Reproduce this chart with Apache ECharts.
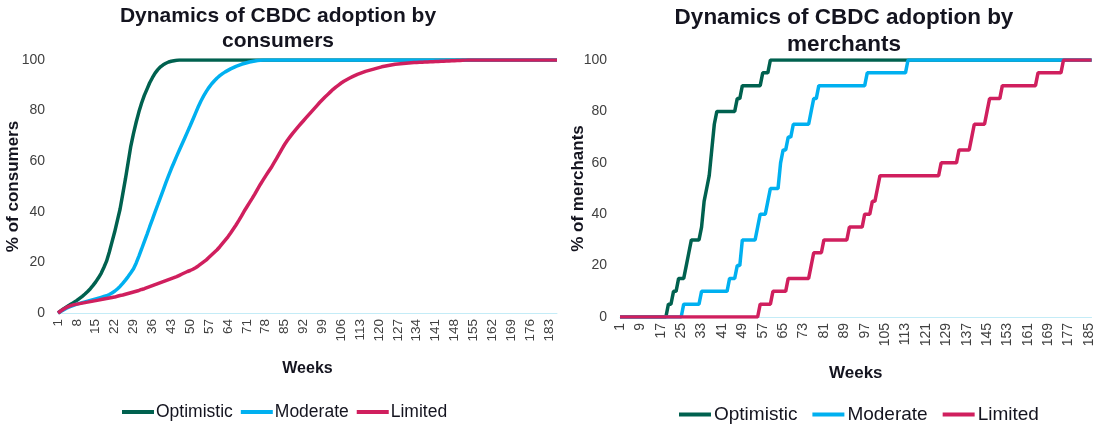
<!DOCTYPE html>
<html>
<head>
<meta charset="utf-8">
<script src="https://cdn.jsdelivr.net/npm/echarts@6/dist/echarts.min.js"></script>
<style>
html,body{margin:0;padding:0;background:#fff;}
#chart{width:1096px;height:424px;}
</style>
</head>
<body>
<div id="chart"></div>
<script>
// ---- Data ----
const weeks = [
1,2,3,4,5,6,7,8,9,10,11,12,13,14,15,16,17,18,19,20,
21,22,23,24,25,26,27,28,29,30,31,32,33,34,35,36,37,38,39,40,
41,42,43,44,45,46,47,48,49,50,51,52,53,54,55,56,57,58,59,60,
61,62,63,64,65,66,67,68,69,70,71,72,73,74,75,76,77,78,79,80,
81,82,83,84,85,86,87,88,89,90,91,92,93,94,95,96,97,98,99,100,
101,102,103,104,105,106,107,108,109,110,111,112,113,114,115,116,117,118,119,120,
121,122,123,124,125,126,127,128,129,130,131,132,133,134,135,136,137,138,139,140,
141,142,143,144,145,146,147,148,149,150,151,152,153,154,155,156,157,158,159,160,
161,162,163,164,165,166,167,168,169,170,171,172,173,174,175,176,177,178,179,180,
181,182,183,184,185,186
];
const seriesNames = ["Optimistic", "Moderate", "Limited"];

// Consumers (% adopting), weeks 1..186
const consumersOptimistic = [
0,0.8,1.6,2.3,3,3.6,4.3,5,5.8,6.6,
7.5,8.5,9.6,10.9,12.3,13.9,15.7,18,20.5,24,
28,32,36.5,41,47,53,59.5,66,71,75.5,
79.5,83,86,88.5,91,93,94.8,96.2,97.3,98.1,
98.7,99.2,99.5,99.7,99.9,100,100,100,100,100,
100,100,100,100,100,100,100,100,100,100,
100,100,100,100,100,100,100,100,100,100,
100,100,100,100,100,100,100,100,100,100,
100,100,100,100,100,100,100,100,100,100,
100,100,100,100,100,100,100,100,100,100,
100,100,100,100,100,100,100,100,100,100,
100,100,100,100,100,100,100,100,100,100,
100,100,100,100,100,100,100,100,100,100,
100,100,100,100,100,100,100,100,100,100,
100,100,100,100,100,100,100,100,100,100,
100,100,100,100,100,100,100,100,100,100,
100,100,100,100,100,100,100,100,100,100,
100,100,100,100,100,100,100,100,100,100,
100,100,100,100,100,100
];
const consumersModerate = [
0,0.6,1.2,1.8,2.3,2.7,3.1,3.5,3.8,4.1,
4.4,4.7,5,5.3,5.6,5.9,6.2,6.5,6.8,7.3,
7.9,8.6,9.5,10.5,11.7,13,14.4,15.9,17.5,19.8,
22.5,25.3,28.2,31.1,34.1,37,40,42.8,45.7,48.6,
51.5,54.3,57,59.5,62,64.4,66.8,69.2,71.6,74,
76.5,79,81.5,83.8,85.8,87.6,89.2,90.6,91.8,92.9,
93.8,94.6,95.3,95.9,96.5,97,97.5,97.9,98.3,98.6,
98.9,99.2,99.4,99.6,99.8,99.9,100,100,100,100,
100,100,100,100,100,100,100,100,100,100,
100,100,100,100,100,100,100,100,100,100,
100,100,100,100,100,100,100,100,100,100,
100,100,100,100,100,100,100,100,100,100,
100,100,100,100,100,100,100,100,100,100,
100,100,100,100,100,100,100,100,100,100,
100,100,100,100,100,100,100,100,100,100,
100,100,100,100,100,100,100,100,100,100,
100,100,100,100,100,100,100,100,100,100,
100,100,100,100,100,100,100,100,100,100,
100,100,100,100,100,100
];
const consumersLimited = [
0,0.8,1.5,2.1,2.6,3,3.3,3.5,3.7,3.9,
4.1,4.3,4.5,4.7,4.9,5.1,5.3,5.5,5.7,5.9,
6.1,6.3,6.6,6.9,7.1,7.4,7.7,8,8.3,8.6,
8.9,9.3,9.6,10,10.4,10.8,11.2,11.6,12,12.4,
12.8,13.2,13.6,14,14.4,14.9,15.4,15.9,16.4,16.8,
17.3,17.9,18.6,19.4,20.2,21,22,23,24,25,
26.2,27.5,28.8,30.1,31.6,33.2,34.8,36.5,38.3,40.2,
41.9,43.6,45.3,47.1,49,50.8,52.5,54.2,55.8,57.4,
59.2,61,62.9,64.8,66.6,68.2,69.6,71,72.3,73.6,
74.8,76,77.2,78.4,79.6,80.8,82,83.2,84.3,85.4,
86.4,87.4,88.4,89.3,90.1,90.9,91.6,92.2,92.8,93.3,
93.8,94.3,94.7,95.1,95.5,95.8,96.1,96.4,96.7,97,
97.3,97.5,97.7,97.9,98.1,98.3,98.4,98.5,98.6,98.7,
98.8,98.9,99,99.05,99.1,99.15,99.2,99.25,99.3,99.35,
99.4,99.45,99.5,99.55,99.6,99.65,99.7,99.75,99.8,99.85,
99.9,99.95,100,100,100,100,100,100,100,100,
100,100,100,100,100,100,100,100,100,100,
100,100,100,100,100,100,100,100,100,100,
100,100,100,100,100,100
];

// Merchants (% adopting), weeks 1..186
const merchantsOptimistic = [
0,0,0,0,0,0,0,0,0,0,
0,0,0,0,0,0,0,0,0,5,
5,10,10,15,15,15,20,25,30,30,
30,30,35,45,50,55,65,75,80,80,
80,80,80,80,80,80,85,85,90,90,
90,90,90,90,90,90,95,95,95,100,
100,100,100,100,100,100,100,100,100,100,
100,100,100,100,100,100,100,100,100,100,
100,100,100,100,100,100,100,100,100,100,
100,100,100,100,100,100,100,100,100,100,
100,100,100,100,100,100,100,100,100,100,
100,100,100,100,100,100,100,100,100,100,
100,100,100,100,100,100,100,100,100,100,
100,100,100,100,100,100,100,100,100,100,
100,100,100,100,100,100,100,100,100,100,
100,100,100,100,100,100,100,100,100,100,
100,100,100,100,100,100,100,100,100,100,
100,100,100,100,100,100,100,100,100,100,
100,100,100,100,100,100
];
const merchantsModerate = [
0,0,0,0,0,0,0,0,0,0,
0,0,0,0,0,0,0,0,0,0,
0,0,0,0,0,5,5,5,5,5,
5,5,10,10,10,10,10,10,10,10,
10,10,10,15,15,15,20,20,30,30,
30,30,30,30,35,40,40,40,45,50,
50,50,50,60,65,65,70,70,75,75,
75,75,75,75,75,80,85,85,90,90,
90,90,90,90,90,90,90,90,90,90,
90,90,90,90,90,90,90,95,95,95,
95,95,95,95,95,95,95,95,95,95,
95,95,95,100,100,100,100,100,100,100,
100,100,100,100,100,100,100,100,100,100,
100,100,100,100,100,100,100,100,100,100,
100,100,100,100,100,100,100,100,100,100,
100,100,100,100,100,100,100,100,100,100,
100,100,100,100,100,100,100,100,100,100,
100,100,100,100,100,100,100,100,100,100,
100,100,100,100,100,100
];
const merchantsLimited = [
0,0,0,0,0,0,0,0,0,0,
0,0,0,0,0,0,0,0,0,0,
0,0,0,0,0,0,0,0,0,0,
0,0,0,0,0,0,0,0,0,0,
0,0,0,0,0,0,0,0,0,0,
0,0,0,0,0,5,5,5,5,5,
10,10,10,10,10,10,15,15,15,15,
15,15,15,15,15,20,25,25,25,25,
30,30,30,30,30,30,30,30,30,30,
35,35,35,35,35,35,40,40,40,45,
45,50,55,55,55,55,55,55,55,55,
55,55,55,55,55,55,55,55,55,55,
55,55,55,55,55,55,60,60,60,60,
60,60,60,65,65,65,65,65,70,75,
75,75,75,75,80,85,85,85,85,85,
90,90,90,90,90,90,90,90,90,90,
90,90,90,90,95,95,95,95,95,95,
95,95,95,95,100,100,100,100,100,100,
100,100,100,100,100,100
];
const yTicks = [0, 20, 40, 60, 80, 100];

// ---- Styling ----
const colors = ["#00614f", "#00b0f0", "#d01f5e"];
const FONT = "Liberation Sans, Arial, sans-serif";
const axisColor = "#c4ecf7";
const labelColor = "#404040";
const darkText = "#14141f";

const chart = echarts.init(document.getElementById("chart"), null, {renderer: "canvas"});

function xAxisCfg(gridIndex, interval, fs, nameFs, nameGap) {
  return {
    type: "category", gridIndex: gridIndex, data: weeks, boundaryGap: false,
    axisLine: {lineStyle: {color: axisColor, width: 1}},
    axisTick: {show: false},
    axisLabel: {interval: interval, rotate: 90, fontSize: fs, color: labelColor, fontFamily: FONT, margin: 6},
    splitLine: {show: false},
    name: "Weeks", nameLocation: "middle", nameGap: nameGap, nameMoveOverlap: false,
    nameTextStyle: {fontSize: nameFs, fontWeight: "bold", color: darkText, fontFamily: FONT}
  };
}
function yAxisCfg(gridIndex, name, fs, nameFs, nameGap) {
  return {
    type: "value", gridIndex: gridIndex, min: yTicks[0], max: yTicks[yTicks.length - 1], interval: 20,
    axisLine: {show: false}, axisTick: {show: false}, splitLine: {show: false},
    axisLabel: {fontSize: fs, color: labelColor, fontFamily: FONT, margin: 13},
    name: name, nameLocation: "middle", nameGap: nameGap, nameRotate: 90, nameMoveOverlap: false,
    nameTextStyle: {fontSize: nameFs, fontWeight: "bold", color: darkText, fontFamily: FONT}
  };
}
function lineSeries(name, data, idx, color) {
  return {
    name: name, type: "line", data: data, xAxisIndex: idx, yAxisIndex: idx,
    showSymbol: false, symbol: "none", smooth: false,
    lineStyle: {color: color, width: 3.5}, itemStyle: {color: color},
    animation: false
  };
}
const legendIcon = "path://M0,0 L40,0 L40,5 L0,5 Z";

chart.setOption({
  backgroundColor: "#ffffff",
  animation: false,
  title: [
    {text: "Dynamics of CBDC adoption by\nconsumers", left: 273, top: -1, textAlign: "center",
     textStyle: {fontSize: 21, fontWeight: "bold", color: darkText, fontFamily: FONT, lineHeight: 25}},
    {text: "Dynamics of CBDC adoption by\nmerchants", left: 839, top: -1, textAlign: "center",
     textStyle: {fontSize: 22.5, fontWeight: "bold", color: darkText, fontFamily: FONT, lineHeight: 27}}
  ],
  legend: [
    {data: seriesNames, left: 117, top: 398, icon: legendIcon, itemWidth: 32, itemHeight: 4, itemGap: 8,
     textStyle: {fontSize: 17.5, color: darkText, fontFamily: FONT, padding: [0, 0, 0, -3]}},
    {data: seriesNames, left: 674, top: 400, icon: legendIcon, itemWidth: 34, itemHeight: 4, itemGap: 15,
     textStyle: {fontSize: 19, color: darkText, fontFamily: FONT, padding: [0, 0, 0, -3]}}
  ],
  grid: [
    {left: 58, right: 539, top: 60, bottom: 111, containLabel: false},
    {left: 620, right: 3, top: 60, bottom: 107, containLabel: false}
  ],
  xAxis: [xAxisCfg(0, 6, 13.5, 16, 48), xAxisCfg(1, 7, 14, 17, 48)],
  yAxis: [yAxisCfg(0, "% of consumers", 14, 17, 36), yAxisCfg(1, "% of merchants", 14, 17, 33)],
  series: [
    lineSeries(seriesNames[0], consumersOptimistic, 0, colors[0]),
    lineSeries(seriesNames[1], consumersModerate, 0, colors[1]),
    lineSeries(seriesNames[2], consumersLimited, 0, colors[2]),
    lineSeries(seriesNames[0], merchantsOptimistic, 1, colors[0]),
    lineSeries(seriesNames[1], merchantsModerate, 1, colors[1]),
    lineSeries(seriesNames[2], merchantsLimited, 1, colors[2])
  ]
});
</script>
</body>
</html>
